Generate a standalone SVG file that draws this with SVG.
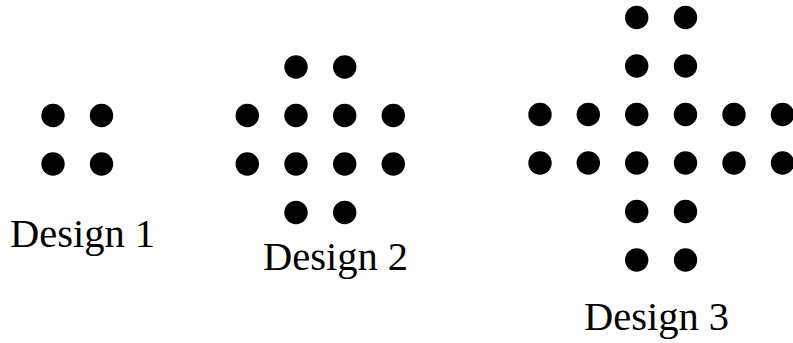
<svg xmlns="http://www.w3.org/2000/svg" width="793" height="343" viewBox="0 0 793 343">
<style>
circle{fill:#000}
text{font-family:"Liberation Serif","Times New Roman",serif;font-size:40.5px;fill:#000}
</style>
<rect width="793" height="343" fill="#fff"/>
<g id="design1">
<circle cx="53" cy="115.5" r="11.7"/><circle cx="101.5" cy="115.5" r="11.7"/>
<circle cx="53" cy="164" r="11.7"/><circle cx="101.5" cy="164" r="11.7"/>
<text x="10" y="247">Design 1</text>
</g>
<g id="design2">
<circle cx="296" cy="67" r="11.7"/><circle cx="344.7" cy="67" r="11.7"/>
<circle cx="247.3" cy="115.5" r="11.7"/><circle cx="296" cy="115.5" r="11.7"/><circle cx="344.7" cy="115.5" r="11.7"/><circle cx="393.3" cy="115.5" r="11.7"/>
<circle cx="247.3" cy="164" r="11.7"/><circle cx="296" cy="164" r="11.7"/><circle cx="344.7" cy="164" r="11.7"/><circle cx="393.3" cy="164" r="11.7"/>
<circle cx="296" cy="212.5" r="11.7"/><circle cx="344.7" cy="212.5" r="11.7"/>
<text x="263" y="270">Design 2</text>
</g>
<g id="design3">
<circle cx="636.7" cy="17.5" r="11.7"/><circle cx="685.5" cy="17.5" r="11.7"/>
<circle cx="636.7" cy="66" r="11.7"/><circle cx="685.5" cy="66" r="11.7"/>
<circle cx="540" cy="114.5" r="11.7"/><circle cx="588.3" cy="114.5" r="11.7"/><circle cx="636.7" cy="114.5" r="11.7"/><circle cx="685.5" cy="114.5" r="11.7"/><circle cx="734" cy="114.5" r="11.7"/><circle cx="782.5" cy="114.5" r="11.7"/>
<circle cx="540" cy="163" r="11.7"/><circle cx="588.3" cy="163" r="11.7"/><circle cx="636.7" cy="163" r="11.7"/><circle cx="685.5" cy="163" r="11.7"/><circle cx="734" cy="163" r="11.7"/><circle cx="782.5" cy="163" r="11.7"/>
<circle cx="636.7" cy="211.5" r="11.7"/><circle cx="685.5" cy="211.5" r="11.7"/>
<circle cx="636.7" cy="260" r="11.7"/><circle cx="685.5" cy="260" r="11.7"/>
<text x="584" y="330">Design 3</text>
</g>
<g id="connectors"/>
</svg>
